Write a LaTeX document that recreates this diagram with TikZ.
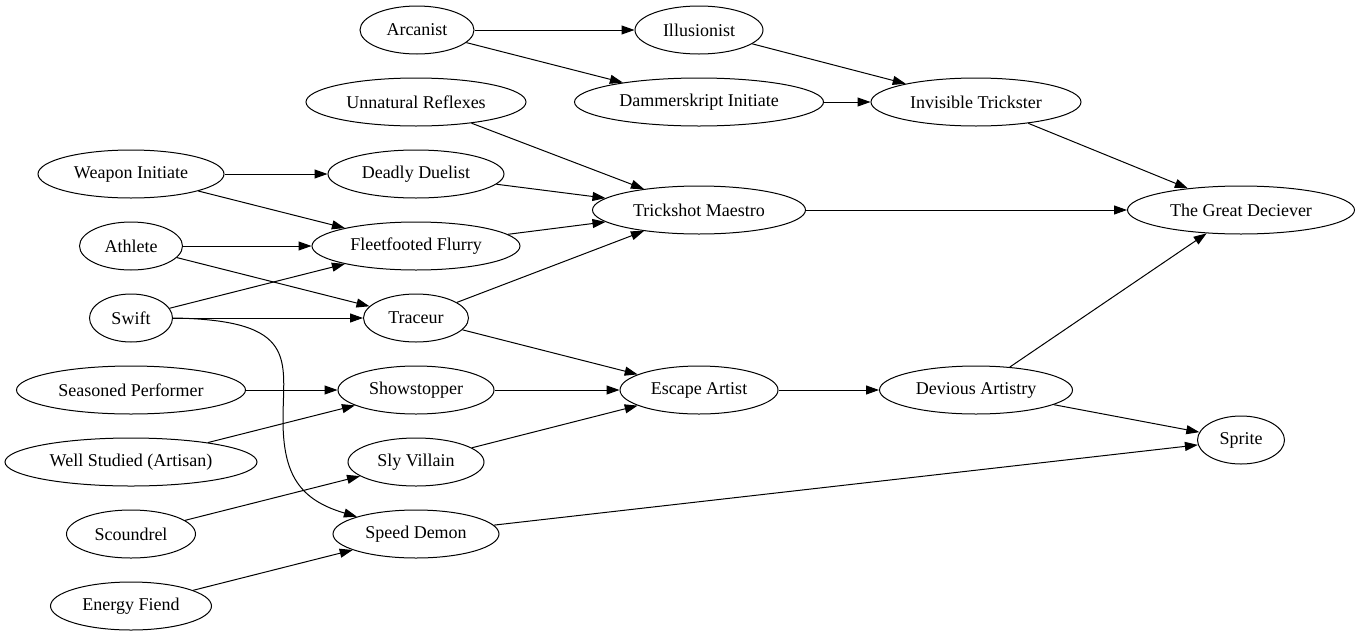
\documentclass[tikz,border=0pt]{standalone}
\usepackage{fontspec}
\setmainfont{Liberation Serif}
\usetikzlibrary{shapes.geometric,arrows.meta}
\begin{document}
\begin{tikzpicture}[x=1pt,y=-1pt,
  nd/.style={draw,ellipse,line width=1pt,inner sep=0pt,minimum height=48pt,font=\fontsize{18}{20}\selectfont},
  ar/.style={draw,line width=1pt,-{Triangle[length=13pt,width=9pt]}}]
\useasboundingbox (0,0) rectangle (1360,635);
\node[nd,minimum width=114] (arc) at (417,30) {Arcanist};
\node[nd,minimum width=128] (ill) at (699,30) {Illusionist};
\node[nd,minimum width=249] (dam) at (699,102) {Dammerskript Initiate};
\node[nd,minimum width=210] (inv) at (976,102) {Invisible Trickster};
\node[nd,minimum width=220] (unr) at (416,102) {Unnatural Reflexes};
\node[nd,minimum width=186] (wea) at (131,174) {Weapon Initiate};
\node[nd,minimum width=176] (ded) at (416,174) {Deadly Duelist};
\node[nd,minimum width=213] (tri) at (699,210) {Trickshot Maestro};
\node[nd,minimum width=227] (gre) at (1241,210) {The Great Deciever};
\node[nd,minimum width=103] (ath) at (131,246) {Athlete};
\node[nd,minimum width=208] (fle) at (416,246) {Fleetfooted Flurry};
\node[nd,minimum width=83] (swi) at (131,318) {Swift};
\node[nd,minimum width=105] (tra) at (416,318) {Traceur};
\node[nd,minimum width=229] (sea) at (131,390) {Seasoned Performer};
\node[nd,minimum width=156] (sho) at (416,390) {Showstopper};
\node[nd,minimum width=158] (esc) at (699,390) {Escape Artist};
\node[nd,minimum width=193] (dev) at (976,390) {Devious Artistry};
\node[nd,minimum width=87] (spr) at (1241,440) {Sprite};
\node[nd,minimum width=252] (wel) at (131,462) {Well Studied (Artisan)};
\node[nd,minimum width=136] (sly) at (416,462) {Sly Villain};
\node[nd,minimum width=129] (sco) at (131,534) {Scoundrel};
\node[nd,minimum width=166] (spd) at (416,534) {Speed Demon};
\node[nd,minimum width=161] (ene) at (131,606) {Energy Fiend};
\path[ar] (arc) -- (ill);
\path[ar] (arc) -- (dam);
\path[ar] (ill) -- (inv);
\path[ar] (dam) -- (inv);
\path[ar] (inv) -- (gre);
\path[ar] (unr) -- (tri);
\path[ar] (wea) -- (ded);
\path[ar] (wea) -- (fle);
\path[ar] (ded) -- (tri);
\path[ar] (fle) -- (tri);
\path[ar] (tri) -- (gre);
\path[ar] (ath) -- (fle);
\path[ar] (ath) -- (tra);
\path[ar] (swi) -- (fle);
\path[ar] (swi) -- (tra);
\path[ar] (swi.east) .. controls (300,320) and (283,360) .. (283,420) .. controls (283,475) and (300,500) .. (spd);
\path[ar] (tra) -- (tri);
\path[ar] (tra) -- (esc);
\path[ar] (sea) -- (sho);
\path[ar] (wel) -- (sho);
\path[ar] (sho) -- (esc);
\path[ar] (sly) -- (esc);
\path[ar] (sco) -- (sly);
\path[ar] (ene) -- (spd);
\path[ar] (esc) -- (dev);
\path[ar] (dev) -- (gre);
\path[ar] (dev) -- (spr);
\path[ar] (spd) -- (spr);
\end{tikzpicture}
\end{document}
